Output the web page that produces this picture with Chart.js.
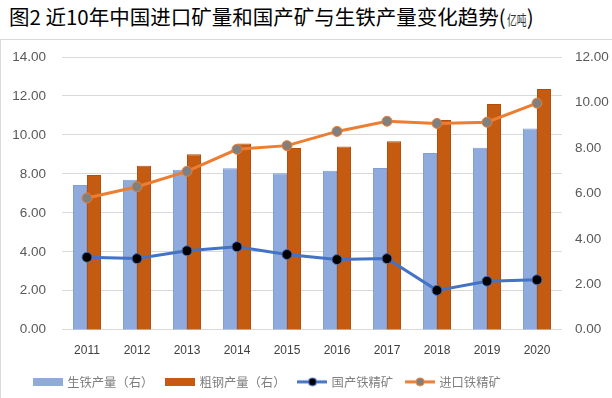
<!DOCTYPE html>
<html>
<head>
<meta charset="utf-8">
<script src="https://cdn.jsdelivr.net/npm/chart.js@4"></script>
<style>
  body { margin: 0; width: 612px; height: 398px; background: #fff; overflow: hidden; font-family: "Noto Sans CJK SC", sans-serif; }
  #title { position: absolute; left: 9px; top: 1px; font-size: 20.5px; color: #000; white-space: nowrap; }
  #title .unit { display: inline-block; font-size: 14px; color: #333; transform: scaleX(0.7); transform-origin: left center; margin-right: -8px; margin-left: 1px; }
  #frame { position: absolute; left: 0; top: 39px; width: 612px; height: 359px; border-top: 1px solid #d9d9d9; border-left: 1px solid #d9d9d9; box-sizing: border-box; }
  #wrap { position: absolute; left: 0; top: 40px; width: 612px; height: 358px; }
</style>
</head>
<body>
<div id="title">图2 近10年中国进口矿量和国产矿与生铁产量变化趋势(<span class="unit">亿吨</span>)</div>
<div id="frame"></div>
<div id="wrap"><canvas id="chart"></canvas></div>
<script>
const years = ['2011', '2012', '2013', '2014', '2015', '2016', '2017', '2018', '2019', '2020'];
const pigIron = [6.37, 6.60, 7.04, 7.10, 6.88, 6.99, 7.12, 7.78, 8.01, 8.85];
const crudeSteel = [6.81, 7.21, 7.72, 8.19, 8.00, 8.06, 8.29, 9.23, 9.93, 10.59];
const domesticOre = [3.72, 3.65, 4.05, 4.26, 3.86, 3.60, 3.65, 2.02, 2.49, 2.56];
const importOre = [6.76, 7.34, 8.13, 9.26, 9.45, 10.18, 10.70, 10.59, 10.65, 11.63];
const leftMax = 14, rightMax = 12, tickStep = 2;

// small legend icons
function barIcon(color) {
  const c = document.createElement('canvas');
  c.width = 30; c.height = 8;
  const g = c.getContext('2d');
  g.fillStyle = color;
  g.fillRect(0, 0, 30, 8);
  return c;
}
function lineIcon(lineColor, dotFill, dotBorder) {
  const c = document.createElement('canvas');
  c.width = 30; c.height = 10;
  const g = c.getContext('2d');
  g.strokeStyle = lineColor; g.lineWidth = 3;
  g.beginPath(); g.moveTo(0, 5); g.lineTo(30, 5); g.stroke();
  g.fillStyle = dotFill; g.strokeStyle = dotBorder; g.lineWidth = 1;
  g.beginPath(); g.arc(15, 5, 4, 0, Math.PI * 2); g.fill(); g.stroke();
  return c;
}

const numFont = '"Liberation Sans", Arial, sans-serif';
// fixed widths for the value axes, no label overhang
const fitY = w => s => { s.width = w; s.paddingTop = 0; s.paddingBottom = 0; };

// legend sits a bit left of centre in the original
const legendShift = {
  id: 'legendShift',
  afterLayout(chart) { chart.legend.left = 21; }
};

new Chart(document.getElementById('chart'), {
  data: {
    labels: years,
    datasets: [
      {
        type: 'bar', label: '生铁产量（右）', data: pigIron, yAxisID: 'yR', order: 2,
        backgroundColor: '#8faadc', borderColor: '#7f9fd6', borderWidth: 1,
        barPercentage: 1, categoryPercentage: 0.56, pointStyle: barIcon('#8faadc')
      },
      {
        type: 'bar', label: '粗钢产量（右）', data: crudeSteel, yAxisID: 'yR', order: 2,
        backgroundColor: '#c55a11', borderColor: '#b34f0c', borderWidth: 1,
        barPercentage: 1, categoryPercentage: 0.56, pointStyle: barIcon('#c55a11')
      },
      {
        type: 'line', label: '国产铁精矿', data: domesticOre, yAxisID: 'yL', order: 1,
        borderColor: '#4472c4', borderWidth: 3, backgroundColor: '#000',
        pointBackgroundColor: '#000', pointBorderColor: '#4472c4', pointBorderWidth: 1,
        pointRadius: 5, tension: 0, pointStyle: 'circle'
      },
      {
        type: 'line', label: '进口铁精矿', data: importOre, yAxisID: 'yL', order: 0,
        borderColor: '#ed7d31', borderWidth: 3, backgroundColor: '#808080',
        pointBackgroundColor: '#808080', pointBorderColor: '#ed7d31', pointBorderWidth: 1,
        pointRadius: 5, tension: 0, pointStyle: 'circle'
      }
    ]
  },
  plugins: [legendShift],
  options: {
    responsive: true,
    maintainAspectRatio: false,
    animation: false,
    layout: { padding: { top: 17, left: 0, right: 0, bottom: 0 } },
    plugins: {
      tooltip: { enabled: false },
      legend: {
        position: 'bottom',
        align: 'start',
        labels: {
          usePointStyle: true,
          pointStyleWidth: 26,
          boxHeight: 10,
          padding: 14,
          color: '#7f7f7f',
          font: { family: '"Noto Sans CJK SC", sans-serif', size: 12.3 },
          sort: (a, b) => a.datasetIndex - b.datasetIndex,
          generateLabels: chart => chart.data.datasets.map((ds, i) => ({
            text: ds.label,
            datasetIndex: i,
            fontColor: '#7f7f7f',
            pointStyle: ds.type === 'bar' ? ds.pointStyle :
              (i === 2 ? lineIcon('#4472c4', '#000', '#4472c4') : lineIcon('#ed7d31', '#808080', '#ed7d31')),
            lineWidth: 0,
            hidden: false
          }))
        }
      }
    },
    scales: {
      x: {
        grid: { display: false, drawTicks: false },
        border: { display: false },
        ticks: { color: '#404040', font: { family: numFont, size: 12 }, padding: 14 },
        afterFit: s => { s.height = 32; }
      },
      yL: {
        position: 'left', min: 0, max: leftMax,
        ticks: { stepSize: tickStep, color: '#595959', font: { family: numFont, size: 13.5 }, padding: 16, callback: v => v.toFixed(2) },
        grid: { color: '#d9d9d9', lineWidth: 1, drawTicks: false },
        border: { display: false },
        afterFit: fitY(62)
      },
      yR: {
        position: 'right', min: 0, max: rightMax,
        ticks: { stepSize: tickStep, color: '#595959', font: { family: numFont, size: 13.5 }, padding: 13, callback: v => v.toFixed(2) },
        grid: { display: false, drawTicks: false },
        border: { display: false },
        afterFit: fitY(50)
      }
    }
  }
});
</script>
</body>
</html>
